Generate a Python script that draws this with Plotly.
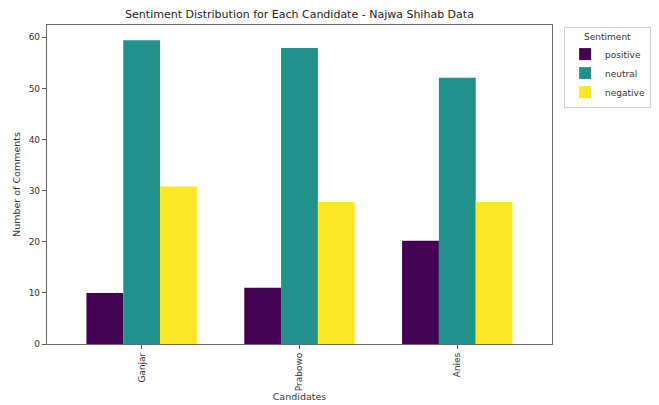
import plotly.graph_objects as go

candidates = ["Ganjar", "Prabowo", "Anies"]
sentiments = ["positive", "neutral", "negative"]
positive = [10.0, 11.0, 20.2]
neutral = [59.4, 57.9, 52.1]
negative = [30.8, 27.8, 27.8]
colors = ["#440154", "#21918c", "#fde725"]
y_ticks = [0, 10, 20, 30, 40, 50, 60]

series = [positive, neutral, negative]
FONT = "DejaVu Sans, sans-serif"

# page body has an 8px margin, so the figure is drawn 8px in from the top-left
W, H = 651, 397
L, R, T, B = 39, 107, 17, 61

fig = go.Figure()
for name, vals, col in zip(sentiments, series, colors):
    fig.add_trace(go.Bar(x=candidates, y=vals, name=name,
                         marker=dict(color=col, line=dict(width=0))))

fig.update_layout(
    width=W, height=H,
    margin=dict(l=L, r=R, t=T, b=B, autoexpand=False),
    paper_bgcolor="white", plot_bgcolor="white",
    barmode="group", bargap=0.3, bargroupgap=0,
    font=dict(family=FONT, size=9, color="#333"),
    title=dict(text="Sentiment Distribution for Each Candidate - Najwa Shihab Data",
               x=(L + (W - R)) / 2 / W, xanchor="center", y=1 - 6 / H, yanchor="middle",
               font=dict(size=11, color="#222", family=FONT)),
    legend=dict(title=dict(text="Sentiment", side="top center", font=dict(size=9)),
                x=1.024, y=0.994, xanchor="left", yanchor="top",
                bordercolor="#d0d0d0", borderwidth=1, bgcolor="white",
                font=dict(size=9), itemwidth=30, tracegroupgap=0),
    showlegend=True,
)
fig.update_xaxes(
    range=[-0.6, 2.6], tickangle=-90, ticks="outside", ticklen=4, tickcolor="#555",
    showline=True, linecolor="#666", linewidth=1.2, mirror=True, showgrid=False,
    title=dict(text="Candidates", standoff=2, font=dict(size=9.5)),
    tickfont=dict(size=9),
)
fig.update_yaxes(
    range=[0, 62.4], tickvals=y_ticks, ticks="outside", ticklen=4, tickcolor="#555",
    showline=True, linecolor="#666", linewidth=1.2, mirror=True, showgrid=False,
    zeroline=False,
    title=dict(text="Number of Comments", standoff=6, font=dict(size=9.5)),
    tickfont=dict(size=9),
)

fig.write_html("out.html")
